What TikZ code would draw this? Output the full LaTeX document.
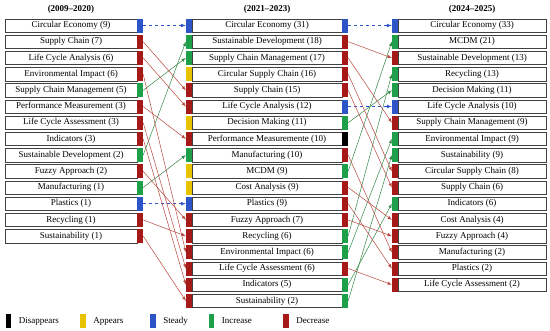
\documentclass[tikz,border=0pt]{standalone}
\usepackage{fontspec}
\setmainfont{Liberation Serif}
\usepackage{tikz}
\usetikzlibrary{positioning,arrows,shadows}

\definecolor{steady}{RGB}{45,85,200}
\definecolor{increase}{RGB}{30,160,75}
\definecolor{decrease}{RGB}{165,25,25}
\definecolor{appears}{RGB}{232,196,0}
\definecolor{disappears}{RGB}{0,0,0}
\definecolor{decline}{RGB}{185,70,60}
\definecolor{incline}{RGB}{50,135,70}

\begin{document}
\begin{tikzpicture}[x=1pt,y=-1pt,
mybox/.style={
  draw=black!75,
  line width=0.5pt,
  fill=white,
  inner sep=0pt,
  minimum height=13.5pt,
  font=\fontsize{9}{10}\selectfont,
  drop shadow={shadow xshift=0.8pt,shadow yshift=-0.8pt,fill=black!55,opacity=1}},
mybar/.style={
  inner sep=0pt,
  minimum width=5.5pt,
  minimum height=14pt},
decarrow/.style={draw=decline, line width=0.5pt, -latex},
incarrow/.style={draw=incline, line width=0.5pt, -latex},
stdarrow/.style={draw=steady, line width=0.7pt, dashed, -latex},
mylabel/.style={font=\fontsize{9}{10}\selectfont},
myhead/.style={font=\bfseries\fontsize{9}{10}\selectfont}
]
\useasboundingbox (0,0) rectangle (550,330);

% headers
\node[myhead] (h1) at (71,9) {(2009--2020)};
\node[myhead] (h2) at (267,9) {(2021--2023)};
\node[myhead] (h3) at (472,9) {(2024--2025)};

% first period
\foreach \lab/\col [count=\i] in {
  Circular Economy (9)/steady,
  Supply Chain (7)/decrease,
  Life Cycle Analysis (6)/decrease,
  Environmental Impact (6)/decrease,
  Supply Chain Management (5)/increase,
  Performance Measurement (3)/decrease,
  Life Cycle Assessment (3)/decrease,
  Indicators (3)/decrease,
  Sustainable Development (2)/increase,
  Fuzzy Approach (2)/decrease,
  Manufacturing (1)/increase,
  Plastics (1)/steady,
  Recycling (1)/decrease,
  Sustainability (1)/decrease}
{
  \node[mybox, minimum width=132pt] (a\i) at (71,{25.5+16.2*(\i-1)}) {\lab};
  \node[mybar, fill=\col, anchor=west] (ar\i) at (a\i.east) {};
}

% second period
\foreach \lab/\cl/\cr [count=\i] in {
  Circular Economy (31)/steady/steady,
  Sustainable Development (18)/increase/decrease,
  Supply Chain Management (17)/increase/decrease,
  Circular Supply Chain (16)/appears/decrease,
  Supply Chain (15)/decrease/decrease,
  Life Cycle Analysis (12)/decrease/steady,
  Decision Making (11)/appears/increase,
  Performance Measuremente (10)/decrease/disappears,
  Manufacturing (10)/increase/decrease,
  MCDM (9)/appears/increase,
  Cost Analysis (9)/appears/decrease,
  Plastics (9)/steady/decrease,
  Fuzzy Approach (7)/decrease/decrease,
  Recycling (6)/decrease/increase,
  Environmental Impact (6)/decrease/increase,
  Life Cycle Assessment (6)/decrease/decrease,
  Indicators (5)/decrease/increase,
  Sustainability (2)/decrease/increase}
{
  \node[mybox, minimum width=150pt] (b\i) at (267,{25.5+16.2*(\i-1)}) {\lab};
  \node[mybar, fill=\cl, anchor=east] (bl\i) at (b\i.west) {};
  \node[mybar, fill=\cr, anchor=west] (br\i) at (b\i.east) {};
}

% third period
\foreach \lab/\col [count=\i] in {
  Circular Economy (33)/steady,
  MCDM (21)/increase,
  Sustainable Development (13)/decrease,
  Recycling (13)/increase,
  Decision Making (11)/increase,
  Life Cycle Analysis (10)/steady,
  Supply Chain Management (9)/decrease,
  Environmental Impact (9)/increase,
  Sustainability (9)/increase,
  Circular Supply Chain (8)/decrease,
  Supply Chain (6)/decrease,
  Indicators (6)/increase,
  Cost Analysis (4)/decrease,
  Fuzzy Approach (4)/decrease,
  Manufacturing (2)/decrease,
  Plastics (2)/decrease,
  Life Cycle Assessment (2)/decrease}
{
  \node[mybox, minimum width=148pt] (c\i) at (472,{25.5+16.2*(\i-1)}) {\lab};
  \node[mybar, fill=\col, anchor=east] (cl\i) at (c\i.west) {};
}

% links 2009-2020 -> 2021-2023
\foreach \s/\t in {1/1,12/12}
  \draw[stdarrow] (ar\s.east) -- (bl\t.west);
\foreach \s/\t in {5/3,9/2,11/9}
  \draw[incarrow] (ar\s.east) -- (bl\t.west);
\foreach \s/\t in {2/5,3/6,4/15,6/8,7/16,8/17,10/13,13/14,14/18}
  \draw[decarrow] (ar\s.east) -- (bl\t.west);

% links 2021-2023 -> 2024-2025
\foreach \s/\t in {1/1,6/6}
  \draw[stdarrow] (br\s.east) -- (cl\t.west);
\foreach \s/\t in {7/5,10/2,14/4,15/8,17/12,18/9}
  \draw[incarrow] (br\s.east) -- (cl\t.west);
\foreach \s/\t in {2/3,3/7,4/10,5/11,9/15,11/13,12/16,13/14,16/17}
  \draw[decarrow] (br\s.east) -- (cl\t.west);

% legend
\node[mybar, fill=disappears] (l1) at (8.5,321) {};
\node[mylabel, right=4pt of l1] (t1) {Disappears};
\node[mybar, fill=appears] (l2) at (83,321) {};
\node[mylabel, right=4pt of l2] (t2) {Appears};
\node[mybar, fill=steady] (l3) at (153,321) {};
\node[mylabel, right=4pt of l3] (t3) {Steady};
\node[mybar, fill=increase] (l4) at (211.5,321) {};
\node[mylabel, right=4pt of l4] (t4) {Increase};
\node[mybar, fill=decrease] (l5) at (286,321) {};
\node[mylabel, right=4pt of l5] (t5) {Decrease};
\end{tikzpicture}
\end{document}
